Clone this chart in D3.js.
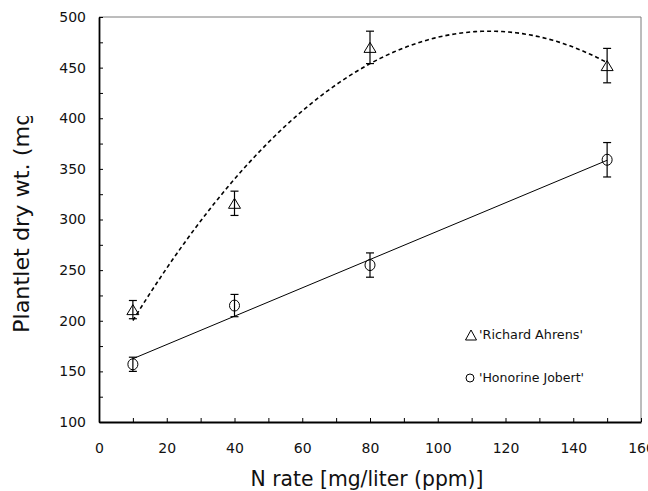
<!DOCTYPE html>
<html>
<head>
<meta charset="utf-8">
<script src="https://cdn.jsdelivr.net/npm/d3@7"></script>
<style>
  body { margin: 0; background: #fff; }
  text { font-family: "DejaVu Sans", sans-serif; fill: #111; }
</style>
</head>
<body>
<div id="chart"></div>
<script>
// N rate (mg/liter) and plantlet dry weight per cultivar
const nRate = [10, 40, 80, 150];
const richardMean = [211, 316, 470, 452];
const richardErr = [9, 12, 16, 17];
const honorineMean = [157, 215, 255, 359];
const honorineErr = [7, 11, 12, 17];

const xTicks = [0, 10, 20, 30, 40, 50, 60, 70, 80, 90, 100, 110, 120, 130, 140, 150, 160];
const yTicks = [100, 125, 150, 175, 200, 225, 250, 275, 300, 325, 350, 375, 400, 425, 450, 475, 500];
const legendNames = ["'Richard Ahrens'", "'Honorine Jobert'"];

const W = 648, H = 491;
const margin = { t: 17, r: 7, b: 69, l: 99 };

const svg = d3.select("#chart").append("svg")
  .attr("width", W)
  .attr("height", H);

const x = d3.scaleLinear().domain([0, 160]).range([margin.l, W - margin.r]);
const y = d3.scaleLinear().domain([100, 500]).range([H - margin.b, margin.t]);

// least squares polynomial fit (degree 1 or 2) of the plotted means
function polyFit(xs, ys, deg) {
  const n = deg + 1;
  const A = [];
  for (let i = 0; i < n; i++) {
    A.push([]);
    for (let j = 0; j < n; j++) A[i].push(d3.sum(xs, (v) => Math.pow(v, i + j)));
    A[i].push(d3.sum(xs, (v, k) => Math.pow(v, i) * ys[k]));
  }
  // gauss elimination
  for (let i = 0; i < n; i++) {
    for (let k = i + 1; k < n; k++) {
      const f = A[k][i] / A[i][i];
      for (let j = i; j <= n; j++) A[k][j] -= f * A[i][j];
    }
  }
  const c = new Array(n).fill(0);
  for (let i = n - 1; i >= 0; i--) {
    let s = A[i][n];
    for (let j = i + 1; j < n; j++) s -= A[i][j] * c[j];
    c[i] = s / A[i][i];
  }
  return (v) => c.reduce((acc, ci, i) => acc + ci * Math.pow(v, i), 0);
}

// frame (top and right in grey)
svg.append("path")
  .attr("d", `M${x(0)},${y(500)}H${x(160)}V${y(100)}`)
  .attr("fill", "none")
  .attr("stroke", "#7a7a7a")
  .attr("stroke-width", 1);

// axes
const yAxis = d3.axisLeft(y)
  .tickValues(yTicks)
  .tickSizeInner(-4)
  .tickSizeOuter(0)
  .tickPadding(13)
  .tickFormat((d) => (d % 50 === 0 ? d : ""));
const xAxis = d3.axisBottom(x)
  .tickValues(xTicks)
  .tickSizeInner(-4)
  .tickSizeOuter(0)
  .tickPadding(21)
  .tickFormat((d) => (d % 20 === 0 ? d : ""));

const gy = svg.append("g")
  .attr("transform", `translate(${x(0)},0)`)
  .call(yAxis);
const gx = svg.append("g")
  .attr("transform", `translate(0,${y(100)})`)
  .call(xAxis);

[gx, gy].forEach((g) => {
  g.select(".domain").attr("stroke", "#000").attr("stroke-width", 1.8);
  g.selectAll(".tick line").attr("stroke", "#000").attr("stroke-width", 1);
  g.selectAll("text")
    .attr("font-family", "DejaVu Sans")
    .attr("font-size", 14)
    .attr("fill", "#222");
});

// axis titles
svg.append("text")
  .attr("x", 367)
  .attr("y", 486)
  .attr("text-anchor", "middle")
  .attr("font-size", 22)
  .attr("textLength", 233)
  .attr("lengthAdjust", "spacingAndGlyphs")
  .text("N rate [mg/liter (ppm)]");

// the y title is cut at the top, as in the original
svg.append("clipPath").attr("id", "yclip")
  .append("rect")
  .attr("x", 0).attr("y", 116).attr("width", 60).attr("height", 300);

svg.append("g")
  .attr("clip-path", "url(#yclip)")
  .append("text")
  .attr("transform", "translate(29,333) rotate(-90)")
  .attr("text-anchor", "start")
  .attr("font-size", 22)
  .attr("textLength", 230)
  .attr("lengthAdjust", "spacingAndGlyphs")
  .text("Plantlet dry wt. (mg)");

// fitted lines
const fitX = d3.range(10, 150.5, 1);
const line = d3.line().x((d) => x(d[0])).y((d) => y(d[1]));

const quad = polyFit(nRate, richardMean, 2);
svg.append("path")
  .datum(fitX.map((v) => [v, quad(v)]))
  .attr("d", line)
  .attr("fill", "none")
  .attr("stroke", "#000")
  .attr("stroke-width", 1.6)
  .attr("stroke-dasharray", "4,3");

const lin = polyFit(nRate, honorineMean, 1);
svg.append("path")
  .datum([10, 150].map((v) => [v, lin(v)]))
  .attr("d", line)
  .attr("fill", "none")
  .attr("stroke", "#000")
  .attr("stroke-width", 1);

// error bars
function drawErrors(means, errs) {
  const g = svg.append("g").attr("stroke", "#000").attr("stroke-width", 1.2);
  nRate.forEach((v, i) => {
    const cx = x(v);
    const top = y(means[i] + errs[i]);
    const bot = y(means[i] - errs[i]);
    g.append("line").attr("x1", cx).attr("x2", cx).attr("y1", top).attr("y2", bot);
    g.append("line").attr("x1", cx - 4).attr("x2", cx + 4).attr("y1", top).attr("y2", top);
    g.append("line").attr("x1", cx - 4).attr("x2", cx + 4).attr("y1", bot).attr("y2", bot);
  });
}
drawErrors(richardMean, richardErr);
drawErrors(honorineMean, honorineErr);

// markers
const triangle = (cx, cy, w, h) =>
  `M${cx},${cy - h / 2}L${cx + w / 2},${cy + h / 2}L${cx - w / 2},${cy + h / 2}Z`;

svg.append("g").selectAll("path")
  .data(nRate)
  .join("path")
  .attr("d", (d, i) => triangle(x(d), y(richardMean[i]), 12, 10))
  .attr("fill", "none")
  .attr("stroke", "#000")
  .attr("stroke-width", 1);

svg.append("g").selectAll("ellipse")
  .data(nRate)
  .join("ellipse")
  .attr("cx", (d) => x(d))
  .attr("cy", (d, i) => y(honorineMean[i]))
  .attr("rx", 5)
  .attr("ry", 5.5)
  .attr("fill", "none")
  .attr("stroke", "#000")
  .attr("stroke-width", 1);

// legend
const legend = svg.append("g");
legend.append("path")
  .attr("d", triangle(471, 335, 11, 10))
  .attr("fill", "none")
  .attr("stroke", "#000")
  .attr("stroke-width", 1);
legend.append("circle")
  .attr("cx", 470)
  .attr("cy", 378)
  .attr("r", 4)
  .attr("fill", "none")
  .attr("stroke", "#000")
  .attr("stroke-width", 1);
legend.selectAll("text")
  .data(legendNames)
  .join("text")
  .attr("x", 479)
  .attr("y", (d, i) => (i === 0 ? 339 : 382))
  .attr("font-size", 12)
  .attr("textLength", (d, i) => (i === 0 ? 104 : 105))
  .attr("lengthAdjust", "spacingAndGlyphs")
  .text((d) => d);
</script>
</body>
</html>
